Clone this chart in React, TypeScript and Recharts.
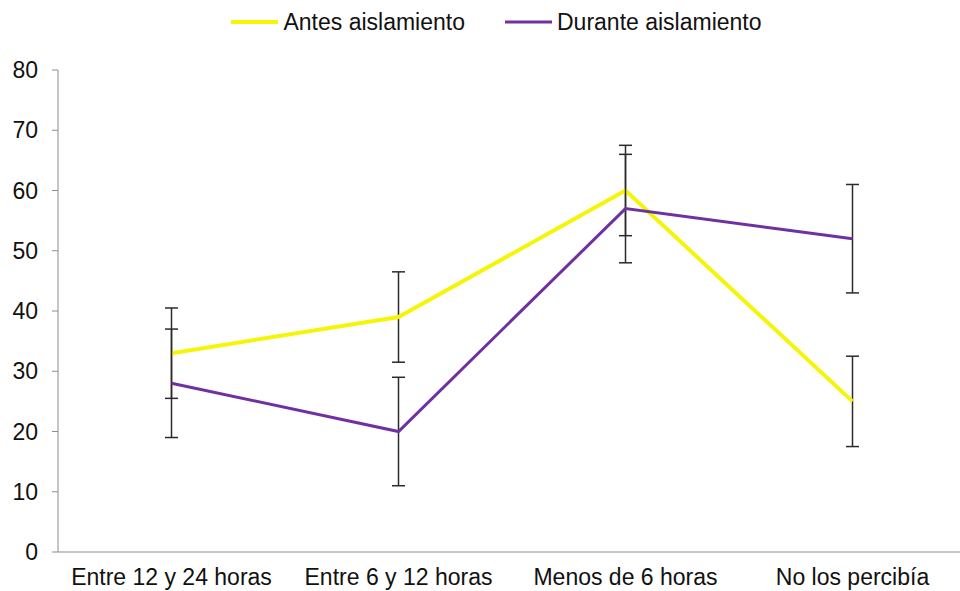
import { ErrorBar, Legend, Line, LineChart, XAxis, YAxis } from "recharts"

const categorias = ["Entre 12 y 24 horas", "Entre 6 y 12 horas", "Menos de 6 horas", "No los percibía"]
const antes = [33, 39, 60, 25]
const durante = [28, 20, 57, 52]
const errorAntes = [7.5, 7.5, 7.5, 7.5]
const errorDurante = [9, 9, 9, 9]
const yTicks = [0, 10, 20, 30, 40, 50, 60, 70, 80]
const nombres = ["Antes aislamiento", "Durante aislamiento"]

const data = categorias.map((name, i) => ({
  name,
  antes: antes[i],
  durante: durante[i],
  errAntes: errorAntes[i],
  errDurante: errorDurante[i],
}))

const AMARILLO = "#f5f50a"
const MORADO = "#7030a0"
const EJE = "#8c8c8c"

function Leyenda() {
  const items = [
    { label: nombres[0], color: AMARILLO, w: 4 },
    { label: nombres[1], color: MORADO, w: 3 },
  ]
  return (
    <div style={{ display: "flex", justifyContent: "center", alignItems: "center", gap: 40 }}>
      {items.map((it) => (
        <div key={it.label} style={{ display: "flex", alignItems: "center" }}>
          <svg width={47} height={10} style={{ marginRight: 5 }}>
            <line x1={0} y1={5} x2={47} y2={5} stroke={it.color} strokeWidth={it.w} />
          </svg>
          <span style={{ fontSize: 23, color: "#111", lineHeight: "28px" }}>{it.label}</span>
        </div>
      ))}
    </div>
  )
}

export default function App() {
  return (
    <div
      style={{
        position: "absolute",
        left: 0,
        top: 0,
        width: 960,
        height: 591,
        overflow: "hidden",
        background: "#fff",
        fontFamily: "'Liberation Sans', Arial, sans-serif",
      }}
    >
      <LineChart width={966} height={591} data={data} margin={{ top: 70, right: 0, bottom: 0, left: 0 }}>
        <XAxis
          dataKey="name"
          padding={{ left: 113.5, right: 113.5 }}
          height={39}
          stroke={EJE}
          tickLine={false}
          tickSize={0}
          tickMargin={17}
          tick={{ fontSize: 23, fill: "#111" }}
          interval={0}
        />
        <YAxis
          domain={[0, 80]}
          ticks={yTicks}
          width={58}
          stroke={EJE}
          tickSize={6}
          tickMargin={14}
          tick={{ fontSize: 23, fill: "#111" }}
          allowDataOverflow
        />
        <Legend
          layout="horizontal"
          verticalAlign="middle"
          align="center"
          wrapperStyle={{ left: 0, top: 8, width: 993 }}
          content={() => <Leyenda />}
        />
        <Line
          type="linear"
          dataKey="antes"
          name={nombres[0]}
          stroke={AMARILLO}
          strokeWidth={4}
          dot={false}
          activeDot={false}
          isAnimationActive={false}
        >
          <ErrorBar dataKey="errAntes" width={6.5} stroke="#2a2a2a" strokeWidth={1.5} direction="y" />
        </Line>
        <Line
          type="linear"
          dataKey="durante"
          name={nombres[1]}
          stroke={MORADO}
          strokeWidth={3}
          dot={false}
          activeDot={false}
          isAnimationActive={false}
        >
          <ErrorBar dataKey="errDurante" width={6.5} stroke="#2a2a2a" strokeWidth={1.5} direction="y" />
        </Line>
      </LineChart>
    </div>
  )
}
